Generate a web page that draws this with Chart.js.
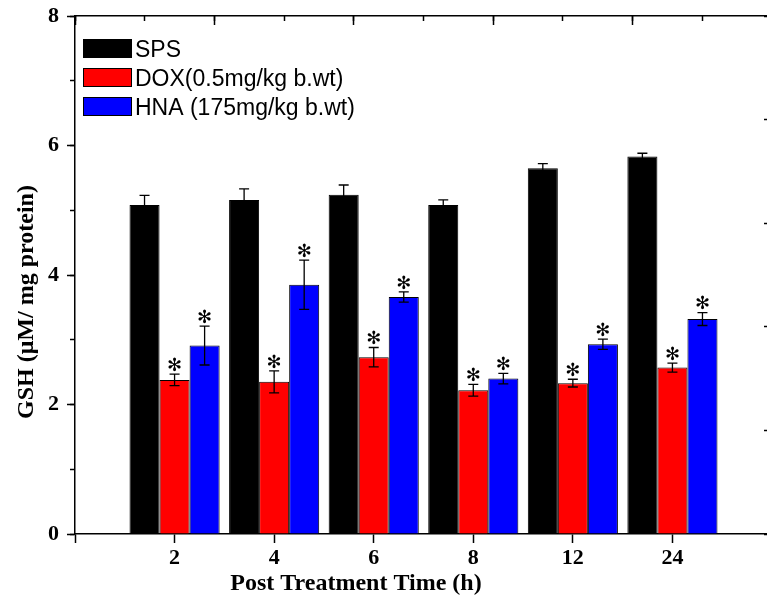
<!DOCTYPE html>
<html>
<head>
<meta charset="utf-8">
<title>GSH</title>
<script src="https://cdn.jsdelivr.net/npm/chart.js@4.4.1/dist/chart.umd.min.js"></script>
<style>
  html, body { margin: 0; padding: 0; background: #fff; overflow: hidden; }
  canvas { display: block; }
</style>
</head>
<body>
<canvas id="gshChart" width="772" height="597"></canvas>
<script>
// data
const categories = ['2', '4', '6', '8', '12', '24'];
const seriesNames = ['SPS', 'DOX(0.5mg/kg b.wt)', 'HNA (175mg/kg b.wt)'];
const spsValues = [5.08, 5.16, 5.24, 5.08, 5.65, 5.83];
const spsErrors = [0.15, 0.17, 0.15, 0.08, 0.07, 0.05];
const doxValues = [2.38, 2.35, 2.73, 2.22, 2.33, 2.57];
const doxErrors = [0.09, 0.17, 0.15, 0.09, 0.06, 0.07];
const hnaValues = [2.91, 3.85, 3.66, 2.40, 2.93, 3.32];
const hnaErrors = [0.30, 0.38, 0.08, 0.08, 0.08, 0.10];
const yTicks = [0, 2, 4, 6, 8];

// empty slots on both ends so the axis starts/ends a full step away
const labels = [''].concat(categories, ['']);
function pad(arr) { return [null].concat(arr, [null]); }

const serif = "'Liberation Serif', 'Times New Roman', serif";

function makeSet(name, values, errors, color, starred) {
    return {
        label: name,
        data: pad(values),
        errors: pad(errors),
        starred: starred,
        backgroundColor: color,
        borderColor: '#000',
        borderWidth: 1,
        categoryPercentage: 0.905,
        barPercentage: 1.0,
        xAxisID: 'x',
        yAxisID: 'y'
    };
}

// no label padding pushing the plot area around
function fixSize(w, h) {
    return s => {
        if (w != null) s.width = w;
        if (h != null) s.height = h;
        s.paddingTop = s.paddingBottom = s.paddingLeft = s.paddingRight = 0;
    };
}

// error bars and the significance stars
const errorBars = {
    id: 'errorBars',
    afterDatasetsDraw(chart) {
        const ctx = chart.ctx;
        const yScale = chart.scales.y;
        chart.data.datasets.forEach((ds, i) => {
            const meta = chart.getDatasetMeta(i);
            meta.data.forEach((bar, j) => {
                const v = ds.data[j];
                if (v == null) return;
                const e = ds.errors[j];
                const top = yScale.getPixelForValue(v + e);
                const bot = yScale.getPixelForValue(v - e);
                ctx.save();
                ctx.strokeStyle = '#000';
                ctx.lineWidth = 1.3;
                ctx.beginPath();
                ctx.moveTo(bar.x, top); ctx.lineTo(bar.x, bot);
                ctx.moveTo(bar.x - 5, top); ctx.lineTo(bar.x + 5, top);
                ctx.moveTo(bar.x - 5, bot); ctx.lineTo(bar.x + 5, bot);
                ctx.stroke();
                if (ds.starred) {
                    ctx.fillStyle = '#000';
                    ctx.font = "18px 'DejaVu Sans'";
                    ctx.textAlign = 'center';
                    ctx.textBaseline = 'middle';
                    ctx.fillText('\u273B', bar.x, top - 8);
                }
                ctx.restore();
            });
        });
    }
};

// legend in the top-left corner of the plot, plus the two axis titles
const decorations = {
    id: 'decorations',
    afterDraw(chart) {
        const ctx = chart.ctx;
        const area = chart.chartArea;
        ctx.save();
        chart.data.datasets.forEach((ds, i) => {
            const bx = area.left + 8;
            const by = area.top + 23 + i * 29;
            ctx.fillStyle = ds.backgroundColor;
            ctx.fillRect(bx, by, 49, 19);
            ctx.strokeStyle = '#000';
            ctx.lineWidth = 1;
            ctx.strokeRect(bx + 0.5, by + 0.5, 48, 18);
            ctx.fillStyle = '#000';
            ctx.font = "23px 'Liberation Sans', Arial, sans-serif";
            ctx.textAlign = 'left';
            ctx.textBaseline = 'alphabetic';
            ctx.fillText(ds.label, bx + 52, by + 18);
        });

        ctx.fillStyle = '#000';
        ctx.font = 'bold 24px ' + serif;
        ctx.textAlign = 'center';
        ctx.textBaseline = 'alphabetic';
        ctx.fillText('Post Treatment Time (h)', 356, 590);

        ctx.translate(33, 302);
        ctx.rotate(-Math.PI / 2);
        ctx.fillText('GSH (\u03BCM/ mg protein)', 0, 0);
        ctx.restore();
    }
};

const ctx = document.getElementById('gshChart').getContext('2d');
const gshChart = new Chart(ctx, {
    type: 'bar',
    data: {
        labels: labels,
        datasets: [
            makeSet(seriesNames[0], spsValues, spsErrors, '#000000', false),
            makeSet(seriesNames[1], doxValues, doxErrors, '#ff0000', true),
            makeSet(seriesNames[2], hnaValues, hnaErrors, '#0000ff', true)
        ]
    },
    options: {
        responsive: false,
        animation: false,
        devicePixelRatio: 1,
        layout: { padding: 0 },
        plugins: {
            legend: { display: false },
            tooltip: { enabled: false }
        },
        scales: {
            x: {
                type: 'category',
                position: 'bottom',
                offset: false,
                grid: { offset: false, drawOnChartArea: false, tickLength: 9, tickWidth: 1.5, tickColor: '#000' },
                border: { color: '#000', width: 1.5 },
                ticks: {
                    color: '#000',
                    autoSkip: false,
                    maxRotation: 0,
                    padding: 2,
                    font: { family: serif, weight: 'bold', size: 22 }
                },
                afterFit: fixSize(null, 63)
            },
            // top and right frame: tick marks only, pointing inwards
            xTop: {
                type: 'linear',
                axis: 'x',
                position: 'top',
                min: 0, max: 10,
                offset: false,
                weight: 1,
                ticks: { display: false, stepSize: 2 },
                grid: { offset: false, drawOnChartArea: false, tickLength: -9, tickWidth: 1.5, tickColor: '#000' },
                border: { color: '#000', width: 1.5 },
                afterFit: fixSize(null, 16)
            },
            xTopMinor: {
                type: 'linear',
                axis: 'x',
                position: 'top',
                min: 0, max: 10,
                offset: false,
                weight: 0,
                ticks: { display: false, stepSize: 1 },
                grid: { offset: false, drawOnChartArea: false, tickLength: -5, tickWidth: 1.5, tickColor: '#000' },
                border: { display: false },
                afterFit: fixSize(null, 0)
            },
            y: {
                type: 'linear',
                position: 'left',
                min: 0, max: 8,
                weight: 1,
                afterBuildTicks: s => { s.ticks = yTicks.map(v => ({ value: v })); },
                ticks: {
                    color: '#000',
                    padding: 8,
                    font: { family: serif, weight: 'bold', size: 22 }
                },
                grid: { drawOnChartArea: false, tickLength: 8, tickWidth: 1.5, tickColor: '#000' },
                border: { color: '#000', width: 1.5 },
                afterFit: fixSize(75, null)
            },
            yMinor: {
                type: 'linear',
                position: 'left',
                min: 0, max: 8,
                weight: 0,
                ticks: { display: false, stepSize: 1 },
                grid: { drawOnChartArea: false, tickLength: 5, tickWidth: 1.5, tickColor: '#000' },
                border: { display: false },
                afterFit: fixSize(0, null)
            },
            yRight: {
                type: 'linear',
                position: 'right',
                min: 0, max: 5,
                ticks: { display: false, stepSize: 1 },
                grid: { drawOnChartArea: false, tickLength: -8, tickWidth: 1.5, tickColor: '#000' },
                border: { color: '#000', width: 1.5 },
                afterFit: fixSize(0, null)
            }
        }
    },
    plugins: [errorBars, decorations]
});
</script>
</body>
</html>
